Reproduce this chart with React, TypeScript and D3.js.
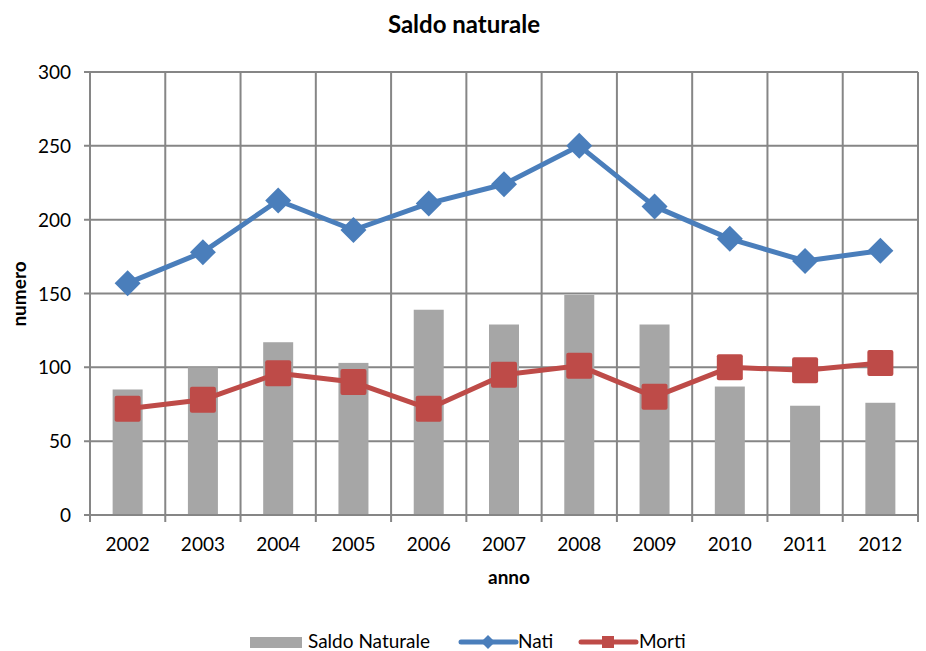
import React from 'react';
import * as d3 from 'd3';

const anni = ['2002', '2003', '2004', '2005', '2006', '2007', '2008', '2009', '2010', '2011', '2012'];
const saldo = [85, 100, 117, 103, 139, 129, 149, 129, 87, 74, 76];
const nati = [157, 178, 213, 193, 211, 224, 250, 209, 187, 172, 179];
const morti = [72, 78, 96, 90, 72, 95, 101, 80, 100, 98, 103];
const yTicks = [0, 50, 100, 150, 200, 250, 300];

const W = 926;
const H = 651;
const FONT = 'Lato, "Open Sans", sans-serif';
const GRID = '#868686';
const BLUE = '#4a7ebb';
const RED = '#be4b48';
const GREY = '#a6a6a6';

const App = () => {
  const left = 90;
  const right = 918;
  const top = 72;
  const bottom = 515;

  const x = d3.scaleBand().domain(anni).range([left, right]).paddingInner(0).paddingOuter(0);
  const y = d3.scaleLinear().domain([0, 300]).range([bottom, top]);
  const cx = (d: string) => (x(d) || 0) + x.bandwidth() / 2;
  const barW = 30;

  const line = d3.line<number>()
    .x((d, i) => cx(anni[i]))
    .y(d => y(d));

  const bounds = anni.map(a => x(a) || 0).concat([right]);

  const diamond = (s: number) => `M0,${-s} L${s},0 L0,${s} L${-s},0 Z`;

  return (
    <div style={{ position: 'absolute', left: 0, top: 0 }}>
      <svg width={W} height={H} style={{ display: 'block', background: '#fff' }}>
        <rect x={0} y={0} width={W} height={H} fill="#fff" />
        <text x={464} y={33} textAnchor="middle" fontFamily={FONT} fontSize={24} fontWeight="bold" fill="#000">
          Saldo naturale
        </text>

        {/* grid */}
        {yTicks.map(t => (
          <line key={'h' + t} x1={left - 6} x2={right} y1={y(t)} y2={y(t)} stroke={GRID} strokeWidth={2} />
        ))}
        {bounds.map((b, i) => (
          <line key={'v' + i} x1={b} x2={b} y1={top} y2={bottom + 7} stroke={GRID} strokeWidth={2} />
        ))}

        {/* bars */}
        {anni.map((a, i) => (
          <rect key={'b' + a} x={cx(a) - barW / 2} y={y(saldo[i])} width={barW} height={bottom - y(saldo[i]) - 1} fill={GREY} />
        ))}

        {/* Nati */}
        <path d={line(nati) || ''} fill="none" stroke={BLUE} strokeWidth={5} strokeLinejoin="round" />
        {nati.map((v, i) => (
          <path key={'n' + i} d={diamond(13)} transform={`translate(${cx(anni[i])},${y(v)})`} fill={BLUE} />
        ))}

        {/* Morti */}
        <path d={line(morti) || ''} fill="none" stroke={RED} strokeWidth={5} strokeLinejoin="round" />
        {morti.map((v, i) => (
          <rect key={'m' + i} x={cx(anni[i]) - 13} y={y(v) - 13} width={26} height={26} rx={2} fill={RED} />
        ))}

        {/* axis labels */}
        {yTicks.map(t => (
          <text key={'yl' + t} x={71} y={y(t) + 7} textAnchor="end" fontFamily={FONT} fontSize={19} fill="#000">{t}</text>
        ))}
        {anni.map(a => (
          <text key={'xl' + a} x={cx(a)} y={551} textAnchor="middle" fontFamily={FONT} fontSize={19} fill="#000">{a}</text>
        ))}
        <text x={509} y={584} textAnchor="middle" fontFamily={FONT} fontSize={19} fontWeight="bold" fill="#000">anno</text>
        <text transform="translate(26,294) rotate(-90)" textAnchor="middle" fontFamily={FONT} fontSize={19} fontWeight="bold" fill="#000">numero</text>

        {/* legend */}
        <rect x={250} y={637} width={52} height={11} fill={GREY} />
        <text x={308} y={648} fontFamily={FONT} fontSize={19} fill="#000">Saldo Naturale</text>
        <line x1={461} x2={516} y1={642} y2={642} stroke={BLUE} strokeWidth={5} strokeLinecap="round" />
        <path d={diamond(7)} transform="translate(488,642)" fill={BLUE} />
        <text x={518} y={648} fontFamily={FONT} fontSize={19} fill="#000">Nati</text>
        <line x1={581} x2={636} y1={642} y2={642} stroke={RED} strokeWidth={5} strokeLinecap="round" />
        <rect x={602} y={636} width={12} height={12} fill={RED} />
        <text x={639} y={648} fontFamily={FONT} fontSize={19} fill="#000">Morti</text>
      </svg>
    </div>
  );
};

export default App;
